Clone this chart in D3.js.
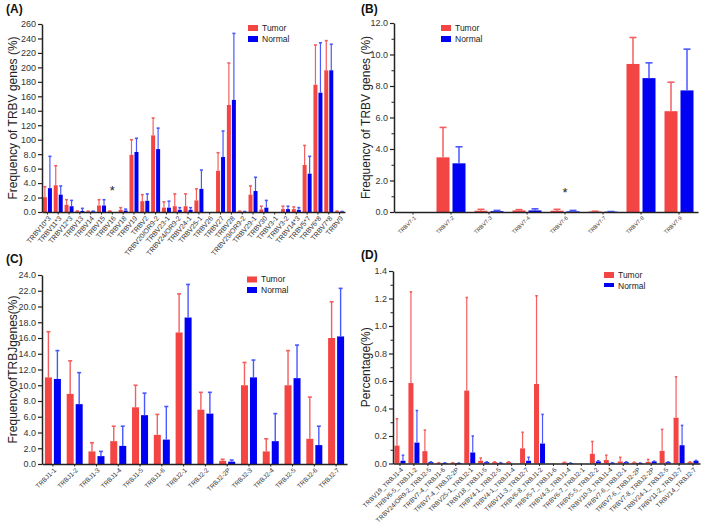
<!DOCTYPE html>
<html>
<head>
<meta charset="utf-8">
<script src="https://cdn.jsdelivr.net/npm/d3@7"></script>
<style>
body { margin: 0; background: #fff; }
svg { display: block; font-family: 'Liberation Sans', Arial, sans-serif; }
.axis path, .axis line { stroke: #222; }
.axis text { fill: #333; }
</style>
</head>
<body>
<div id="chart"></div>
<script>
// Panel A - TRBV genes
var aCats = ['TRBV10*3', 'TRBV11*3', 'TRBV12*3', 'TRBV13', 'TRBV14', 'TRBV15', 'TRBV16', 'TRBV18', 'TRBV19', 'TRBV2',
	'TRBV20/OR9-2', 'TRBV23-1', 'TRBV24/OR9-2', 'TRBV24-1', 'TRBV25-1', 'TRBV26', 'TRBV27', 'TRBV28', 'TRBV29/OR9-2',
	'TRBV29-1', 'TRBV30', 'TRBV3-1', 'TRBV3-2', 'TRBV14*3', 'TRBV5*7', 'TRBV6*8', 'TRBV7*8', 'TRBV9'];
var aTumor = [2.05, 3.7, 1.0, 0.12, 0.1, 0.9, 0.12, 0.3, 7.9, 1.5, 10.6, 0.6, 0.8, 0.8, 1.6, 0, 5.7, 14.8, 0.1,
	2.4, 0.35, 0, 0.4, 0.4, 6.5, 17.6, 19.6, 0.1];
var aTumorErr = [3.5, 6.4, 1.7, 0.15, 0.12, 1.7, 0.15, 0.6, 10.0, 2.4, 13.0, 1.4, 2.5, 2.5, 3.2, 0, 8.2, 20.6, 0.12,
	3.6, 0.8, 0, 0.8, 0.7, 9.2, 23.1, 23.7, 0.12];
var aNormal = [3.3, 2.4, 0.8, 0.15, 0.1, 0.9, 0, 0.2, 8.3, 1.55, 8.7, 0.6, 0.3, 0.3, 3.2, 0, 7.6, 15.5, 0.05,
	2.9, 0.6, 0, 0.4, 0.3, 5.3, 16.5, 19.6, 0.05];
var aNormalErr = [7.7, 3.6, 1.6, 0.5, 0.12, 1.7, 0, 0.4, 10.2, 2.5, 11.6, 1.5, 0.6, 0.6, 5.8, 0, 11.2, 24.7, 0.07,
	4.8, 1.6, 0, 0.8, 0.6, 7.7, 23.4, 23.2, 0.07];
var aTicks = [0, 2, 4, 6, 8, 10, 12, 14, 16, 18, 20, 22, 24, 26];
var aTickLabels = ['0.0', '2.0', '4.0', '6.0', '8.0', '100', '120', '140', '160', '180', '200', '220', '240', '260'];

// Panel B - TRBV7 family
var bCats = ['TRBV7-1', 'TRBV7-2', 'TRBV7-3', 'TRBV7-4', 'TRBV7-6', 'TRBV7-7', 'TRBV7-8', 'TRBV7-9'];
var bTumor = [0, 3.47, 0.08, 0.1, 0.08, 0.03, 9.4, 6.4];
var bTumorErr = [0, 5.37, 0.17, 0.15, 0.17, 0.05, 11.08, 8.24];
var bNormal = [0, 3.09, 0.05, 0.1, 0.04, 0.02, 8.5, 7.72];
var bNormalErr = [0, 4.14, 0.1, 0.2, 0.1, 0.03, 9.47, 10.34];
var bTicks = [0, 2, 4, 6, 8, 10, 12];
var bTickLabels = ['0.0', '2.0', '4.0', '6.0', '8.0', '10.0', '12.0'];

// Panel C - TRBJ genes
var cCats = ['TRBJ1-1', 'TRBJ1-2', 'TRBJ1-3', 'TRBJ1-4', 'TRBJ1-5', 'TRBJ1-6', 'TRBJ2-1', 'TRBJ2-2', 'TRBJ2-2P',
	'TRBJ2-3', 'TRBJ2-4', 'TRBJ2-5', 'TRBJ2-6', 'TRBJ2-7'];
var cTumor = [11.0, 8.9, 1.6, 2.9, 7.2, 3.7, 16.7, 6.9, 0.4, 10.0, 1.6, 10.0, 3.2, 16.0];
var cTumorErr = [16.8, 13.1, 2.7, 4.8, 10.0, 6.3, 21.6, 9.1, 0.6, 12.9, 3.2, 14.4, 8.5, 20.6];
var cNormal = [10.8, 7.6, 1.0, 2.3, 6.2, 3.1, 18.6, 6.4, 0.3, 11.0, 2.9, 10.9, 2.4, 16.2];
var cNormalErr = [14.4, 11.6, 1.6, 4.8, 9.0, 7.3, 22.8, 9.1, 0.5, 13.2, 6.4, 15.1, 4.8, 22.3];
var cTicks = [0, 2, 4, 6, 8, 10, 12, 14, 16, 18, 20, 22, 24];
var cTickLabels = ['0.0', '2.0', '4.0', '6.0', '8.0', '10.0', '12.0', '14.0', '16.0', '18.0', '20.0', '22.0', '24.0'];

// Panel D - V-J pairings
var dCats = ['TRBV19_TRBJ1-4', 'TRBV6-5_TRBJ1-2', 'TRBV24/OR9-2_TRBJ2-5', 'TRBV7-4_TRBJ1-6', 'TRBV7-4_TRBJ2-2P',
	'TRBV25-1_TRBJ2-1', 'TRBV18_TRBJ1-5', 'TRBV4-1_TRBJ2-5', 'TRBV4-1_TRBJ1-4', 'TRBV11-3_TRBJ2-7', 'TRBV6-8_TRBJ1-2',
	'TRBV5-7_TRBJ1-6', 'TRBV4-3_TRBJ1-4', 'TRBV6-7_TRBJ2-1', 'TRBV5-5_TRBJ2-2', 'TRBV10-3_TRBJ1-4', 'TRBV7-6_TRBJ2-1',
	'TRBV7-6_TRBJ2-2P', 'TRBV7-8_TRBJ2-2P', 'TRBV24-1_TRBJ2-5', 'TRBV11-2_TRBJ2-7', 'TRBV14_TRBJ2-7'];
var dTumor = [0.13, 0.585, 0.09, 0.005, 0.005, 0.53, 0.02, 0.01, 0.01, 0.11, 0.578, 0, 0.008, 0, 0.07, 0.025,
	0.015, 0.008, 0.012, 0.092, 0.333, 0.01];
var dTumorErr = [0.325, 1.248, 0.243, 0.006, 0.006, 1.207, 0.04, 0.012, 0.012, 0.227, 1.22, 0, 0.009, 0, 0.16, 0.06,
	0.045, 0.009, 0.03, 0.248, 0.63, 0.012];
var dNormal = [0.02, 0.152, 0.01, 0.004, 0.003, 0.08, 0.01, 0.005, 0, 0.02, 0.145, 0, 0.003, 0, 0.015, 0.005,
	0.01, 0.003, 0.015, 0.01, 0.133, 0.02];
var dNormalErr = [0.06, 0.385, 0.012, 0.005, 0.004, 0.2, 0.012, 0.006, 0, 0.045, 0.357, 0, 0.004, 0, 0.02, 0.006,
	0.012, 0.004, 0.017, 0.012, 0.277, 0.022];
var dTicks = [0, 0.2, 0.4, 0.6, 0.8, 1.0, 1.2, 1.4];
var dTickLabels = ['0.0', '0.2', '0.4', '0.6', '0.8', '1.0', '1.2', '1.4'];

var seriesNames = ['Tumor', 'Normal'];
var barColors = ['#f44545', '#0000f2'];
var errColors = ['#f45e5e', '#4a58ff'];

var svg = d3.select('#chart').append('svg')
	.attr('width', 709)
	.attr('height', 528);

function drawPanel(p) {
	var g = svg.append('g');

	var x = d3.scaleBand().domain(p.cats).range([p.x0, p.x1]);
	var y = d3.scaleLinear().domain([0, p.yMax]).range([p.yBot, p.yTop]);
	var half = x.bandwidth() / 2;

	// Bars + error bars
	var series = [
		{vals: p.tumor, errs: p.tumorErr, off: -p.gap / 2 - p.barW},
		{vals: p.normal, errs: p.normalErr, off: p.gap / 2}
	];
	series.forEach(function(s, si) {
		var rows = p.cats.map(function(c, i) { return {cat: c, v: s.vals[i], e: s.errs[i]}; })
			.filter(function(d) { return d.v > 0; });

		var sg = g.append('g');
		sg.selectAll('rect')
			.data(rows)
			.enter().append('rect')
				.attr('x', function(d) { return x(d.cat) + half + s.off; })
				.attr('y', function(d) { return y(d.v); })
				.attr('width', p.barW)
				.attr('height', function(d) { return Math.max(0.8, y(0) - y(d.v)); })
				.attr('fill', barColors[si]);

		sg.selectAll('line.err')
			.data(rows.filter(function(d) { return d.e > d.v; }))
			.enter().append('line')
				.attr('class', 'err')
				.attr('x1', function(d) { return x(d.cat) + half + s.off + p.barW / 2; })
				.attr('x2', function(d) { return x(d.cat) + half + s.off + p.barW / 2; })
				.attr('y1', function(d) { return y(d.v); })
				.attr('y2', function(d) { return y(d.e); })
				.attr('stroke', errColors[si])
				.attr('stroke-width', p.errW);

		sg.selectAll('line.cap')
			.data(rows)
			.enter().append('line')
				.attr('class', 'cap')
				.attr('x1', function(d) { return x(d.cat) + half + s.off + p.barW / 2 - p.capW / 2; })
				.attr('x2', function(d) { return x(d.cat) + half + s.off + p.barW / 2 + p.capW / 2; })
				.attr('y1', function(d) { return y(d.e); })
				.attr('y2', function(d) { return y(d.e); })
				.attr('stroke', errColors[si])
				.attr('stroke-width', 1.6);
	});

	// Y Axis
	var yAxis = g.append('g')
		.attr('class', 'axis')
		.attr('transform', 'translate(' + p.x0 + ',0)')
		.call(d3.axisLeft(y).tickValues(p.ticks).tickSize(4).tickSizeOuter(0)
			.tickFormat(function(d, i) { return p.tickLabels[i]; }));
	yAxis.select('.domain').attr('stroke-width', 1.5);
	yAxis.selectAll('.tick line').attr('stroke-width', 1.2);
	yAxis.selectAll('text').attr('font-size', 9).attr('x', -6);

	if (p.minor) {
		var mids = p.ticks.slice(1).map(function(t, i) { return (t + p.ticks[i]) / 2; });
		var mAxis = g.append('g')
			.attr('class', 'axis')
			.attr('transform', 'translate(' + p.x0 + ',0)')
			.call(d3.axisLeft(y).tickValues(mids).tickSize(2.5).tickFormat(''));
		mAxis.select('.domain').remove();
	}

	// X Axis
	var xAxis = g.append('g')
		.attr('class', 'axis')
		.attr('transform', 'translate(0,' + p.yBot + ')')
		.call(d3.axisBottom(x).tickSize(2.5).tickSizeOuter(0));
	xAxis.select('.domain').attr('stroke-width', 1.5);
	xAxis.selectAll('text')
		.attr('font-size', p.labelSize)
		.attr('text-anchor', 'end')
		.attr('x', 0).attr('y', 0).attr('dy', '0.35em')
		.attr('transform', 'translate(2,' + p.labelDy + ') rotate(' + p.angle + ')');

	// Y title
	g.append('text')
		.attr('transform', 'translate(' + p.titleX + ',' + ((p.yTop + p.yBot) / 2) + ') rotate(-90)')
		.attr('text-anchor', 'middle')
		.attr('dy', '0.35em')
		.attr('font-size', 12)
		.attr('fill', '#222')
		.text(p.yTitle);

	// Panel letter
	g.append('text')
		.attr('x', p.letterX).attr('y', p.letterY)
		.attr('font-size', 12).attr('font-weight', 'bold')
		.attr('fill', '#111')
		.text(p.letter);

	// Legend
	seriesNames.forEach(function(n, i) {
		g.append('rect')
			.attr('x', p.legX).attr('y', p.legY + i * p.legStep - 3)
			.attr('width', 10).attr('height', i === 1 && p.legSmall ? 4 : 6)
			.attr('fill', barColors[i]);
		g.append('text')
			.attr('x', p.legX + 14).attr('y', p.legY + i * p.legStep)
			.attr('dy', '0.35em')
			.attr('font-size', 8.5)
			.attr('fill', '#222')
			.text(n);
	});

	// Significance star
	if (p.star) {
		g.append('text')
			.attr('x', x(p.star) + half)
			.attr('y', y(p.starY))
			.attr('text-anchor', 'middle')
			.attr('dy', '0.7em')
			.attr('font-size', 13)
			.attr('fill', '#222')
			.text('*');
	}
}

drawPanel({
	cats: aCats, tumor: aTumor, tumorErr: aTumorErr, normal: aNormal, normalErr: aNormalErr,
	ticks: aTicks, tickLabels: aTickLabels, yMax: 26,
	x0: 42, x1: 345, yTop: 24, yBot: 212,
	barW: 4, gap: 1, capW: 3, errW: 1.2,
	labelSize: 7, labelDy: 5, angle: -50,
	yTitle: 'Frequency of TRBV genes (%)', titleX: 13,
	letter: '(A)', letterX: 6, letterY: 13,
	legX: 248, legY: 28, legStep: 11,
	star: 'TRBV16', starY: 3.6
});

drawPanel({
	cats: bCats, tumor: bTumor, tumorErr: bTumorErr, normal: bNormal, normalErr: bNormalErr,
	ticks: bTicks, tickLabels: bTickLabels, yMax: 12, minor: true,
	x0: 394, x1: 698, yTop: 23, yBot: 212,
	barW: 13, gap: 3, capW: 7, errW: 1.5,
	labelSize: 5.5, labelDy: 5, angle: -45,
	yTitle: 'Frequency of TRBV genes (%)', titleX: 366,
	letter: '(B)', letterX: 361, letterY: 13,
	legX: 441, legY: 28, legStep: 11,
	star: 'TRBV7-6', starY: 1.55
});

drawPanel({
	cats: cCats, tumor: cTumor, tumorErr: cTumorErr, normal: cNormal, normalErr: cNormalErr,
	ticks: cTicks, tickLabels: cTickLabels, yMax: 24,
	x0: 42, x1: 347, yTop: 275, yBot: 464,
	barW: 7, gap: 2, capW: 4, errW: 1.4,
	labelSize: 6.5, labelDy: 5, angle: -45,
	yTitle: 'FrequencyofTRBJgenes(%)', titleX: 13,
	letter: '(C)', letterX: 6, letterY: 263,
	legX: 247, legY: 279.5, legStep: 10.5
});

drawPanel({
	cats: dCats, tumor: dTumor, tumorErr: dTumorErr, normal: dNormal, normalErr: dNormalErr,
	ticks: dTicks, tickLabels: dTickLabels, yMax: 1.4, minor: true,
	x0: 393, x1: 700, yTop: 271, yBot: 463.5,
	barW: 5, gap: 1, capW: 2.5, errW: 1.2,
	labelSize: 6.5, labelDy: 5, angle: -45,
	yTitle: 'Percentage(%)', titleX: 366,
	letter: '(D)', letterX: 361, letterY: 259,
	legX: 604, legY: 275, legStep: 11, legSmall: true
});
</script>
</body>
</html>
